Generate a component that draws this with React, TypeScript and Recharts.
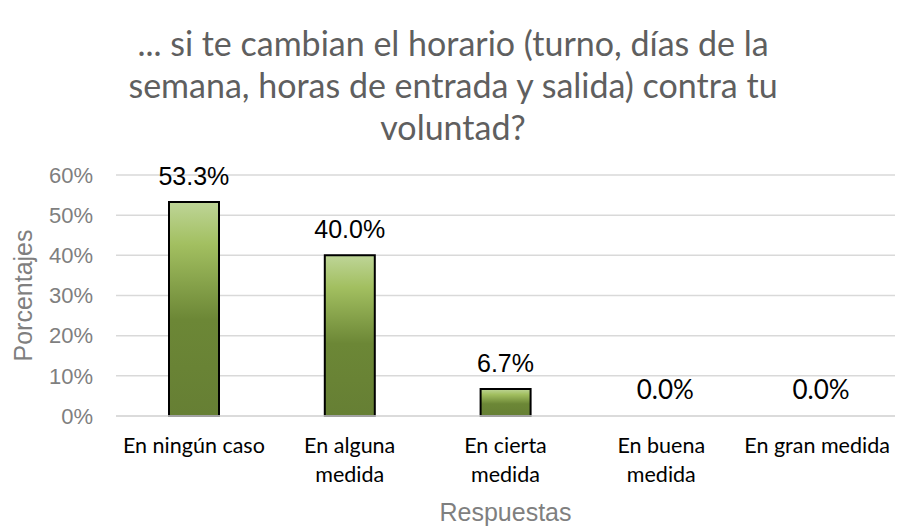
import {
  ComposedChart,
  Bar,
  Line,
  XAxis,
  YAxis,
  CartesianGrid,
  LabelList,
} from "recharts";

const titleLines = [
  "... si te cambian el horario (turno, días de la",
  "semana, horas de entrada y salida) contra tu",
  "voluntad?",
];
const categories = [
  "En ningún caso",
  "En alguna\nmedida",
  "En cierta\nmedida",
  "En buena\nmedida",
  "En gran medida",
];
const percentages = [53.3, 40.0, 6.7, 0.0, 0.0];
const yTicks = [0, 10, 20, 30, 40, 50, 60];

const data = categories.map((c, i) => ({ name: c, value: percentages[i] }));

const ARIAL = "'Liberation Sans', Arial, sans-serif";
const CALIBRI = "Lato, 'Open Sans', sans-serif";

const CategoryTick = ({ x, y, payload }: any) => {
  const lines = String(payload.value).split("\n");
  return (
    <text
      x={x}
      y={y}
      textAnchor="middle"
      fill="#000"
      fontFamily={CALIBRI}
      fontSize={21.5}
    >
      {lines.map((l, i) => (
        <tspan key={i} x={x} dy={29}>
          {l}
        </tspan>
      ))}
    </text>
  );
};

// zero values are written in the narrower font, like the original
const ValueLabel = ({ x, y, value }: any) => {
  const v = Number(value);
  const zero = v === 0;
  return (
    <text
      x={zero ? x + 4 : x}
      y={y - 17}
      textAnchor="middle"
      fill="#000"
      fontFamily={zero ? CALIBRI : ARIAL}
      fontSize={zero ? 26 : 25}
    >
      {`${v.toFixed(1)}%`}
    </text>
  );
};

export default function App() {
  return (
    <div
      style={{
        position: "absolute",
        left: 0,
        top: 0,
        width: 906,
        height: 527,
        background: "#fff",
        fontFamily: ARIAL,
      }}
    >
      <div
        style={{
          position: "absolute",
          left: 0,
          top: 22,
          width: 906,
          textAlign: "center",
          fontFamily: CALIBRI,
          fontSize: 34,
          lineHeight: "42px",
          color: "#5f5f5f",
        }}
      >
        {titleLines.map((t, i) => (
          <div key={i}>{t}</div>
        ))}
      </div>
      <ComposedChart
        width={906}
        height={527}
        data={data}
        margin={{ top: 175, right: 11, bottom: 51, left: 0 }}
        style={{ position: "absolute", left: 0, top: 0 }}
      >
        <defs>
          <linearGradient id="greenFill" x1="0" y1="0" x2="0" y2="1">
            <stop offset="0%" stopColor="#bed597" />
            <stop offset="20%" stopColor="#a2bf60" />
            <stop offset="55%" stopColor="#6c8736" />
            <stop offset="100%" stopColor="#667f34" />
          </linearGradient>
        </defs>
        <CartesianGrid vertical={false} stroke="#d9d9d9" strokeWidth={1.5} />
        <XAxis
          dataKey="name"
          interval={0}
          height={60}
          tickLine={false}
          axisLine={{ stroke: "#d9d9d9", strokeWidth: 1.5 }}
          tick={<CategoryTick />}
          label={{
            value: "Respuestas",
            position: "bottom",
            offset: 27,
            fill: "#7f7f7f",
            fontSize: 25,
            fontFamily: ARIAL,
          }}
        />
        <YAxis
          width={116}
          domain={[0, 60]}
          ticks={yTicks}
          tickFormatter={(v: number) => `${v}%`}
          tickLine={false}
          axisLine={false}
          tickMargin={17}
          tick={{ fill: "#7f7f7f", fontSize: 22, fontFamily: ARIAL }}
          label={{
            value: "Porcentajes",
            angle: -90,
            position: "insideLeft",
            offset: 0,
            dx: 23,
            fill: "#7f7f7f",
            fontSize: 25,
            fontFamily: ARIAL,
            style: { textAnchor: "middle" },
          }}
        />
        <Bar
          dataKey="value"
          barSize={50}
          fill="url(#greenFill)"
          stroke="#000"
          strokeWidth={2}
          isAnimationActive={false}
        />
        <Line
          dataKey="value"
          stroke="none"
          dot={false}
          activeDot={false}
          legendType="none"
          isAnimationActive={false}
        >
          <LabelList dataKey="value" content={<ValueLabel />} />
        </Line>
      </ComposedChart>
    </div>
  );
}
